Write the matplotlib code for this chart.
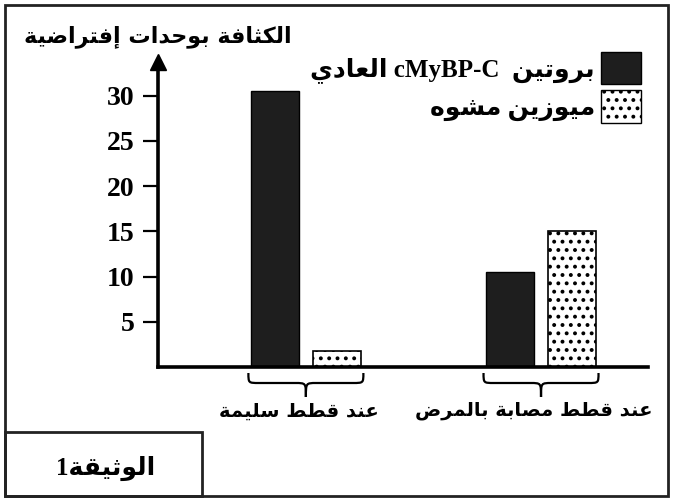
import matplotlib
matplotlib.use("Agg")
import matplotlib.pyplot as plt
from matplotlib.patches import Patch, Rectangle, PathPatch
from matplotlib.path import Path

# --- data ---
groups = ["عند قطط سليمة", "عند قطط مصابة بالمرض"]
normal_protein = [30.5, 10.5]   # بروتين cMyBP-C العادي
mutant_myosin = [1.8, 15.0]     # ميوزين مشوه
y_ticks = [5, 10, 15, 20, 25, 30]
y_label = "الكثافة بوحدات إفتراضية"
legend_ar = ["بروتين", "العادي"]
legend_latin = "cMyBP-C"
legend_2 = "ميوزين مشوه"
doc_label = "الوثيقة"
doc_num = "1"

# --- minimal arabic shaping (presentation forms + visual order) ---
DUAL = {'ئ': 0xFE89, 'ب': 0xFE8F, 'ت': 0xFE95, 'ث': 0xFE99, 'ج': 0xFE9D,
        'ح': 0xFEA1, 'خ': 0xFEA5, 'س': 0xFEB1, 'ش': 0xFEB5, 'ص': 0xFEB9,
        'ض': 0xFEBD, 'ط': 0xFEC1, 'ظ': 0xFEC5, 'ع': 0xFEC9, 'غ': 0xFECD,
        'ف': 0xFED1, 'ق': 0xFED5, 'ك': 0xFED9, 'ل': 0xFEDD, 'م': 0xFEE1,
        'ن': 0xFEE5, 'ه': 0xFEE9, 'ي': 0xFEF1}
RIGHT = {'آ': 0xFE81, 'أ': 0xFE83, 'ؤ': 0xFE85, 'إ': 0xFE87, 'ا': 0xFE8D,
         'ة': 0xFE93, 'د': 0xFEA9, 'ذ': 0xFEAB, 'ر': 0xFEAD, 'ز': 0xFEAF,
         'و': 0xFEED, 'ى': 0xFEEF}


def ar(text):
    out = []
    for i, ch in enumerate(text):
        base = DUAL.get(ch, RIGHT.get(ch))
        if base is None:
            out.append(ch)
            continue
        prev = text[i - 1] if i > 0 else ''
        nxt = text[i + 1] if i + 1 < len(text) else ''
        jp = prev in DUAL
        jn = ch in DUAL and (nxt in DUAL or nxt in RIGHT)
        if jp and jn:
            out.append(chr(base + 3))
        elif jp:
            out.append(chr(base + 1))
        elif jn:
            out.append(chr(base + 2))
        else:
            out.append(chr(base))
    return ''.join(out)[::-1]


FAM = ['Liberation Serif', 'DejaVu Sans']
ARF = ['DejaVu Sans']
plt.rcParams['hatch.linewidth'] = 1.6

W, H = 675, 503
fig = plt.figure(figsize=(W / 100, H / 100), dpi=100)
px_x = lambda x: x / W
px_y = lambda y: 1 - y / H

ax = fig.add_axes([px_x(158), px_y(367), (648 - 158) / W, (367 - 62) / H])
ax.set_xlim(-0.629, 1.455)
ax.set_ylim(0, (367 - 62) / 9.04)

pos = list(range(len(groups)))
bw = 0.205
off = 0.132
ax.bar([p - off for p in pos], normal_protein, bw, color='#1e1e1e',
       edgecolor='black', linewidth=1)
ax.bar([p + off for p in pos], mutant_myosin, bw, color='white',
       edgecolor='black', linewidth=1.2, hatch='..')

for s in ['top', 'right']:
    ax.spines[s].set_visible(False)
for s in ['left', 'bottom']:
    ax.spines[s].set_linewidth(2.6)
ax.plot(0, 1, marker='^', color='black', markersize=11,
        transform=ax.transAxes, clip_on=False)

ax.set_yticks(y_ticks)
ax.set_yticklabels([str(t) for t in y_ticks], family='Liberation Serif',
                   weight='bold', fontsize=20)
ax.tick_params(axis='y', length=11, width=1.6, pad=6)
ax.set_xticks([])

# braces under each group
ypx = 9.04
for p, lab in zip(pos, groups):
    x0, x1 = p - off - bw / 2 - 0.01, p + off + bw / 2 + 0.01
    yt, ym, yb = -6 / ypx, -16 / ypx, -30 / ypx
    r = 0.045
    verts = [(x0, yt), (x0, ym), (x0, ym), (x0 + r, ym),
             (p - r, ym),
             (p, ym), (p, ym), (p, yb),
             (p, ym), (p, ym), (p + r, ym),
             (x1 - r, ym),
             (x1, ym), (x1, ym), (x1, yt)]
    codes = [Path.MOVETO, Path.CURVE4, Path.CURVE4, Path.CURVE4,
             Path.LINETO,
             Path.CURVE4, Path.CURVE4, Path.CURVE4,
             Path.CURVE4, Path.CURVE4, Path.CURVE4,
             Path.LINETO,
             Path.CURVE4, Path.CURVE4, Path.CURVE4]
    ax.add_patch(PathPatch(Path(verts, codes), facecolor='none',
                           edgecolor='black', lw=1.6, clip_on=False))
    ax.text(p - 0.03, -44 / ypx, ar(lab), ha='center', va='center',
            family=ARF, weight='bold', fontsize=14, clip_on=False)

# legend (text on the left of the box)
label1 = ar(legend_ar[1]) + ' ' + legend_latin + '  ' + ar(legend_ar[0])
handles = [Patch(facecolor='#1e1e1e', edgecolor='black'),
           Patch(facecolor='white', edgecolor='black', hatch='..')]
ax.legend(handles, [label1, ar(legend_2)], markerfirst=False, frameon=False,
          loc='upper right', bbox_to_anchor=(px_x(641), px_y(52)),
          bbox_transform=fig.transFigure, borderpad=0, borderaxespad=0,
          prop={'family': FAM, 'weight': 'bold', 'size': 18},
          handlelength=1.6, handleheight=1.6, handletextpad=0.25,
          labelspacing=0.25)

fig.text(px_x(158), px_y(37), ar(y_label), ha='center', va='center',
         family=ARF, weight='bold', fontsize=16)

# frames
fig.patches.append(Rectangle((px_x(5), px_y(496)), px_x(668) - px_x(5),
                             px_y(5) - px_y(496), transform=fig.transFigure,
                             fill=False, edgecolor='#222222', lw=2))
fig.patches.append(Rectangle((px_x(5), px_y(496)), px_x(202) - px_x(5),
                             px_y(432) - px_y(496), transform=fig.transFigure,
                             fill=False, edgecolor='#222222', lw=2))
fig.text(px_x(106), px_y(468), doc_num + ar(doc_label), ha='center',
         va='center', family=FAM, weight='bold', fontsize=18)

fig.savefig('out.png', dpi=100)
